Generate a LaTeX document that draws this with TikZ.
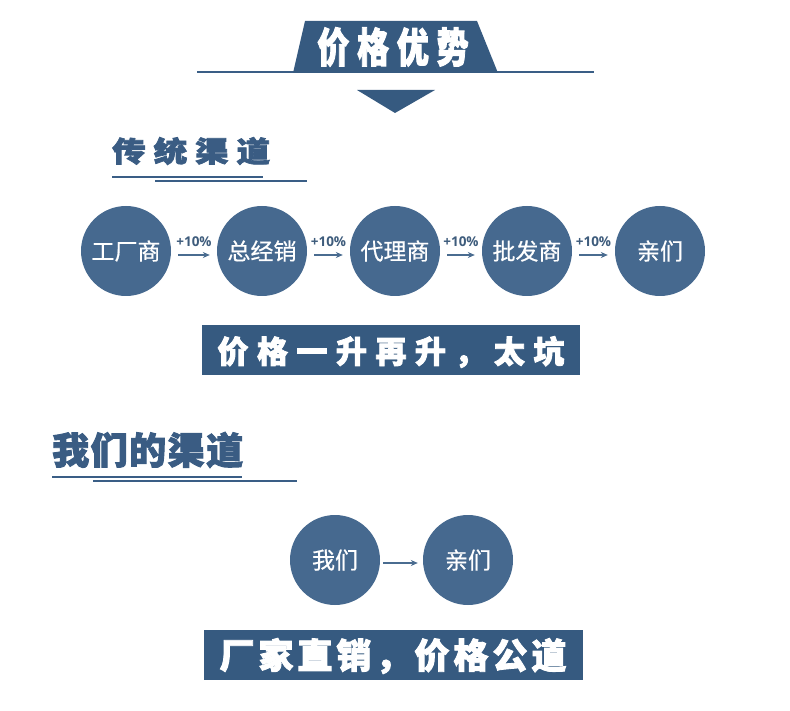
\documentclass[tikz,border=0pt]{standalone}
\usepackage{fontspec}
\usetikzlibrary{arrows.meta}
\newfontfamily\cjk{Noto Sans CJK SC}[FakeBold=0.6]
\newfontfamily\cjkh{Noto Sans CJK SC}[BoldFeatures={FakeBold=2.5}]
\setsansfont{Open Sans}
\definecolor{banner}{HTML}{365A80}
\definecolor{circ}{HTML}{46698F}
\definecolor{head}{HTML}{3A5C83}
\definecolor{rule}{HTML}{3A5E86}
\definecolor{arrc}{HTML}{4A6C90}
\definecolor{pct}{HTML}{3E5C7C}
\makeatletter
\newcommand\spaced[2]{\@tfor\sp@x:=#2\do{\sp@x\kern#1}\kern-#1}
\makeatother
\tikzset{
  stepcirc/.style={circle,fill=circ,minimum size=90pt,inner sep=0pt,text=white,
    font=\cjk\fontsize{23}{23}\selectfont},
  flow/.style={draw=arrc,line width=1.2pt,-{Stealth[length=7pt,width=6pt]},shorten <=7pt,shorten >=7pt},
  pctlab/.style={font=\sffamily\bfseries\fontsize{13.5}{13.5}\selectfont,text=pct,inner sep=0pt},
  hrule/.style={draw=rule,line width=2pt},
  bannertext/.style={text=white,inner sep=0pt},
  headtext/.style={text=head,inner sep=0pt,anchor=west}
}
\begin{document}
\begin{tikzpicture}[x=1pt,y=-1pt]
\useasboundingbox (0,0) rectangle (790,711);
% header
\draw[hrule,line width=2.5pt] (197,72) -- (594,72);
\fill[banner] (293,73) -- (305,21) -- (477,21) -- (498,73) -- cycle;
\node[bannertext] (title) at (393,47) {\scalebox{0.78}[1]{\cjkh\bfseries\fontsize{41}{41}\selectfont\spaced{10pt}{价格优势}}};
\fill[banner] (357,90) -- (435,90) -- (395,113) -- cycle;
% traditional channel
\node[headtext] (h1) at (112,151) {\scalebox{1.12}[0.95]{\cjkh\bfseries\fontsize{30}{30}\selectfont\spaced{7pt}{传统渠道}}};
\draw[hrule] (112,177) -- (263,177);
\draw[hrule] (155,181) -- (307,181);
\node[stepcirc] (c1) at (126,251) {工厂商};
\node[stepcirc] (c2) at (262,251) {总经销};
\node[stepcirc] (c3) at (395,251) {代理商};
\node[stepcirc] (c4) at (527,251) {批发商};
\node[stepcirc] (c5) at (660,251) {亲们};
\foreach \a/\b in {c1/c2,c2/c3,c3/c4,c4/c5}{
  \draw[flow] ([yshift=-4pt]\a.east) -- node[pctlab,above=8pt] {+10\%} ([yshift=-4pt]\b.west);
}
\fill[banner] (202,325) rectangle (580,375);
\node[bannertext] (b1) at (391,352) {\cjkh\bfseries\fontsize{31}{31}\selectfont\spaced{8.5pt}{价格一升再升，太坑}};
% our channel
\node[headtext] (h2) at (52,450) {\cjkh\bfseries\fontsize{37}{37}\selectfont\spaced{1.5pt}{我们的渠道}};
\draw[hrule] (52,477) -- (242,477);
\draw[hrule] (93,481) -- (297,481);
\node[stepcirc] (d1) at (335,560) {我们};
\node[stepcirc] (d2) at (468,560) {亲们};
\draw[flow,shorten <=3pt,shorten >=5pt] ([yshift=-3pt]d1.east) -- ([yshift=-3pt]d2.west);
\fill[banner] (204,630) rectangle (583,680);
\node[bannertext] (b2) at (393,656) {\cjkh\bfseries\fontsize{35}{35}\selectfont\spaced{4pt}{厂家直销，价格公道}};
\end{tikzpicture}
\end{document}
